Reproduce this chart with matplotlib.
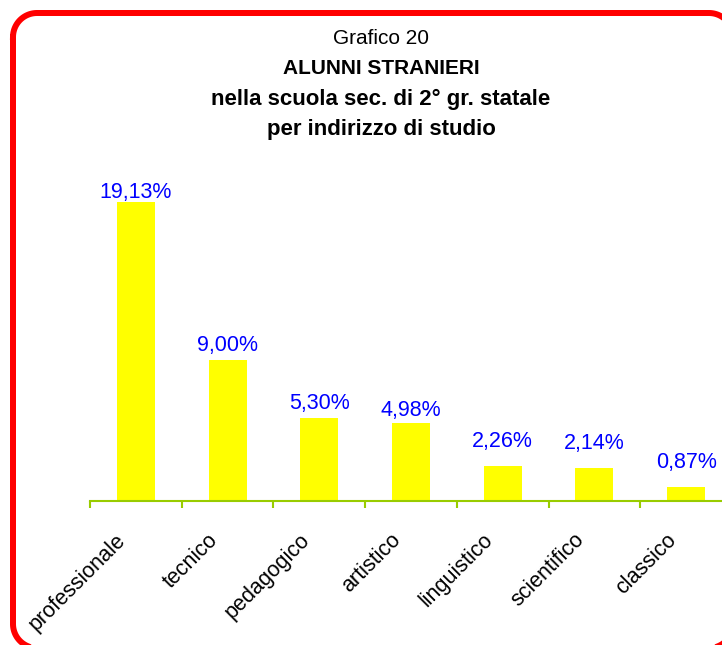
import matplotlib
matplotlib.use("Agg")
import numpy as np
import matplotlib.pyplot as plt
from matplotlib.lines import Line2D
from matplotlib.transforms import ScaledTranslation

categories = ["professionale", "tecnico", "pedagogico", "artistico",
              "linguistico", "scientifico", "classico"]
values = [19.13, 9.00, 5.30, 4.98, 2.26, 2.14, 0.87]
value_labels = ["19,13%", "9,00%", "5,30%", "4,98%", "2,26%", "2,14%", "0,87%"]
title_lines = ["Grafico 20", "ALUNNI STRANIERI",
               "nella scuola sec. di 2° gr. statale", "per indirizzo di studio"]

# style: gap (px) between bar top and label, as placed in the original
label_offset_px = [-1, 4, 4, 2, 14, 14, 14]

plt.rcParams['font.family'] = ['Liberation Sans', 'DejaVu Sans']

W, H = 722, 645
fig = plt.figure(figsize=(W / 100, H / 100), dpi=100)
fig.patch.set_facecolor("white")

# red rounded border drawn as a polyline (pixel coords from top-left)
L, R, T, B, r = 13, 733, 13, 648, 24
def arc(cx, cy, a0, a1):
    a = np.linspace(np.radians(a0), np.radians(a1), 30)
    return cx + r * np.cos(a), cy - r * np.sin(a)
pts_x, pts_y = [], []
for (cx, cy, a0, a1) in [(L + r, T + r, 180, 90), (R - r, T + r, 90, 0),
                         (R - r, B - r, 0, -90), (L + r, B - r, -90, -180)]:
    ax_, ay_ = arc(cx, cy, a0, a1)
    pts_x.extend(ax_); pts_y.extend(ay_)
pts_x.append(pts_x[0]); pts_y.append(pts_y[0])
border = Line2D(np.array(pts_x) / W, 1 - np.array(pts_y) / H,
                transform=fig.transFigure, color="#FF0000",
                linewidth=6 * 0.72, solid_joinstyle="round")
fig.lines.append(border)

# axes
ax_left, ax_right = 90, 732
ax_bottom, ax_top = 501, 180
ax = fig.add_axes([ax_left / W, (H - ax_bottom) / H,
                   (ax_right - ax_left) / W, (ax_bottom - ax_top) / H])
ax.set_facecolor("none")
ax.set_xlim(-0.5, len(categories) - 0.5)
ax.set_ylim(0, (ax_bottom - ax_top) / 15.63)

x = list(range(len(categories)))
ax.bar(x, values, width=0.415, color="#FFFF00", edgecolor="none", zorder=2)

for xi, v, lab, off in zip(x, values, value_labels, label_offset_px):
    ax.annotate(lab, (xi, v), xytext=(0, off * 0.72), textcoords="offset points",
                ha="center", va="bottom", color="#0000FF", fontsize=15.5)

for s in ["top", "right", "left"]:
    ax.spines[s].set_visible(False)
ax.spines["bottom"].set_color("#99CC00")
ax.spines["bottom"].set_linewidth(1.5)
ax.spines["bottom"].set_zorder(3)
ax.set_yticks([])

ax.set_xticks(x)
ax.set_xticklabels([])
ax.tick_params(axis="x", which="major", length=0)
ax.set_xticks([i - 0.5 for i in range(len(categories) + 1)], minor=True)
ax.tick_params(axis="x", which="minor", length=5, width=1.5, color="#99CC00",
               direction="out")

# rotated category labels
lab_tr = ax.get_xaxis_transform() + ScaledTranslation(-13 / 100, -36 / 100,
                                                      fig.dpi_scale_trans)
for xi, c in zip(x, categories):
    ax.text(xi, 0, c, transform=lab_tr, rotation=45, rotation_mode="anchor",
            ha="right", va="center", fontsize=15.5, color="black")

cx = 381 / W
ys = [38, 68, 99, 129]
sizes = [15, 15, 16, 16]
for i, (t, yy, fs) in enumerate(zip(title_lines, ys, sizes)):
    fig.text(cx, (H - yy) / H, t, ha="center", va="center",
             fontsize=fs, fontweight="normal" if i == 0 else "bold",
             color="black")

fig.savefig("out.png", dpi=100, facecolor="white")
